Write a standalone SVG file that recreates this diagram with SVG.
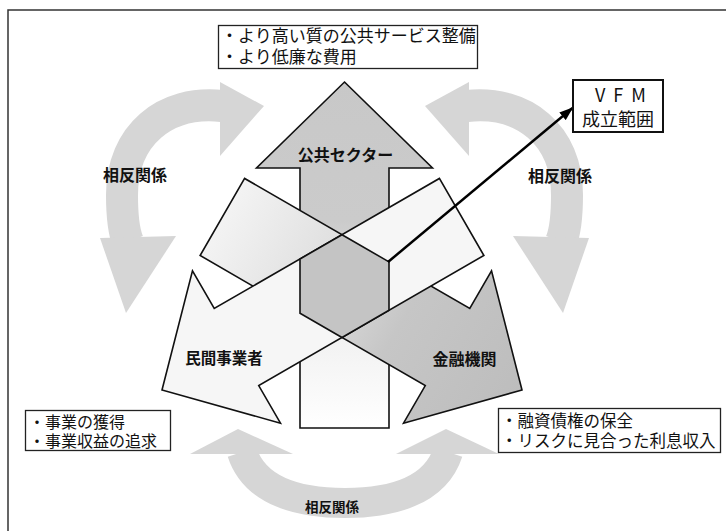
<svg xmlns="http://www.w3.org/2000/svg" width="726" height="531" viewBox="0 0 726 531">
<style>
text{font-family:"Noto Sans CJK JP","Noto Sans CJK SC",sans-serif;fill:#111}
.bt{font-family:"Liberation Sans","Noto Sans CJK JP",sans-serif}
.box{fill:#fff;stroke:#222;stroke-width:1.3}
.lbl{font-weight:bold;text-anchor:middle}
.edge{fill:none;stroke:#111;stroke-width:1.6;stroke-linejoin:miter}
.arc{fill:none;stroke:#d6d6d6}
.arch{fill:#d6d6d6}
</style>
<defs>
<path id="arr" d="M0,0 L88,86 L44.5,86 L44.5,346 L-44.5,346 L-44.5,86 L-88,86 Z"/>
<linearGradient id="gTop" gradientUnits="userSpaceOnUse" x1="0" y1="0" x2="0" y2="346">
<stop offset="0" stop-color="#c8c8c8"/><stop offset="0.4" stop-color="#cbcbcb"/><stop offset="0.75" stop-color="#f2f2f2"/><stop offset="1" stop-color="#ffffff"/>
</linearGradient>
<linearGradient id="gRight" gradientUnits="userSpaceOnUse" x1="0" y1="0" x2="0" y2="346">
<stop offset="0" stop-color="#bdbdbd"/><stop offset="0.4" stop-color="#c6c6c6"/><stop offset="0.65" stop-color="#dedede"/><stop offset="1" stop-color="#f3f3f3"/>
</linearGradient>
<mask id="mTop" maskUnits="userSpaceOnUse" x="0" y="0" width="726" height="531">
<rect width="726" height="531" fill="#fff"/>
<use href="#arr" transform="translate(522,390) rotate(120)" fill="#000"/>
<use href="#arr" transform="translate(162,390) rotate(-120)" fill="#000"/>
</mask>
<mask id="mRight" maskUnits="userSpaceOnUse" x="0" y="0" width="726" height="531">
<rect width="726" height="531" fill="#fff"/>
<use href="#arr" transform="translate(162,390) rotate(-120)" fill="#000"/>
</mask>
<marker id="ah" markerWidth="14" markerHeight="10" refX="13" refY="5" orient="auto" markerUnits="userSpaceOnUse"><path d="M0,0 L14,5 L0,10 Z" fill="#000"/></marker>
</defs>

<rect width="726" height="531" fill="#fff"/>
<path d="M8,531 V10 H726" fill="none" stroke="#333" stroke-width="1.5"/>

<g id="public-sector">
<use href="#arr" transform="translate(344.5,82)" fill="url(#gTop)"/>
<g mask="url(#mTop)"><use href="#arr" transform="translate(344.5,82)" class="edge"/></g>
</g>

<g id="financial-institution">
<use href="#arr" transform="translate(522,390) rotate(120)" fill="url(#gRight)"/>
<g mask="url(#mRight)"><use href="#arr" transform="translate(522,390) rotate(120)" class="edge"/></g>
</g>

<g id="private-operator">
<use href="#arr" transform="translate(162,390) rotate(-120)" fill="#f6f6f6"/>
<use href="#arr" transform="translate(162,390) rotate(-120)" class="edge"/>
</g>

<g id="vfm-range">
<polygon points="342,234.7 389,261.9 389,310.3 342,337.5 300,313.2 300,259" fill="#c4c4c4" class="edge" style="fill:#c4c4c4"/>
</g>

<g id="connectors">
<g id="tradeoff-left">
<path class="arc" stroke-width="32" d="M222,106 C165,100 122,135 122,195 C122,220 124,232 128,242"/>
<polygon class="arch" points="220,82 264,106 220,156"/>
<polygon class="arch" points="100,238 176,236 126,313"/>
</g>
<g id="tradeoff-right">
<path class="arc" stroke-width="32" d="M467,106 C524,100 567,135 567,195 C567,220 565,232 561,242"/>
<polygon class="arch" points="469,82 425,106 469,156"/>
<polygon class="arch" points="589,238 513,236 563,313"/>
</g>
<g id="tradeoff-bottom">
<path class="arc" stroke-width="30" d="M242,452 C255,492 300,503 345,503 C390,503 435,492 448,452"/>
<polygon class="arch" points="190,454 238,429 293,454"/>
<polygon class="arch" points="396,454 446,429 499,454"/>
</g>
<g id="vfm-arrow">
<line x1="388" y1="262" x2="572.5" y2="108" stroke="#000" stroke-width="2.5" marker-end="url(#ah)"/>
</g>
</g>

<text class="lbl" x="345.5" y="161" font-size="16">公共セクター</text>
<text class="lbl" x="224" y="364" font-size="15.5">民間事業者</text>
<text class="lbl" x="464.5" y="365" font-size="16">金融機関</text>

<text class="lbl" x="135" y="181" font-size="16">相反関係</text>
<text class="lbl" x="560" y="182" font-size="16">相反関係</text>
<text class="lbl" x="332" y="512" font-size="13.5">相反関係</text>

<g id="vfm-box">
<rect x="573" y="80" width="90" height="52" fill="#fff" stroke="#111" stroke-width="2"/>
<text x="595" y="102" font-size="18" letter-spacing="8">VFM</text>
<text x="618" y="126" font-size="18" text-anchor="middle">成立範囲</text>
</g>

<g id="public-goals">
<rect class="box" x="218.5" y="25.5" width="259" height="43"/>
<text class="bt" x="221" y="42" font-size="17">・より高い質の公共サービス整備</text>
<text class="bt" x="221" y="62.5" font-size="17">・より低廉な費用</text>
</g>

<g id="private-goals">
<rect class="box" x="25.5" y="410.5" width="145" height="40"/>
<text class="bt" x="29" y="427.5" font-size="16">・事業の獲得</text>
<text class="bt" x="29" y="446.5" font-size="16">・事業収益の追求</text>
</g>

<g id="finance-goals">
<rect class="box" x="498.5" y="408.5" width="222" height="44"/>
<text class="bt" x="501" y="426.5" font-size="16.5">・融資債権の保全</text>
<text class="bt" x="501" y="447" font-size="16.5">・リスクに見合った利息収入</text>
</g>
</svg>
